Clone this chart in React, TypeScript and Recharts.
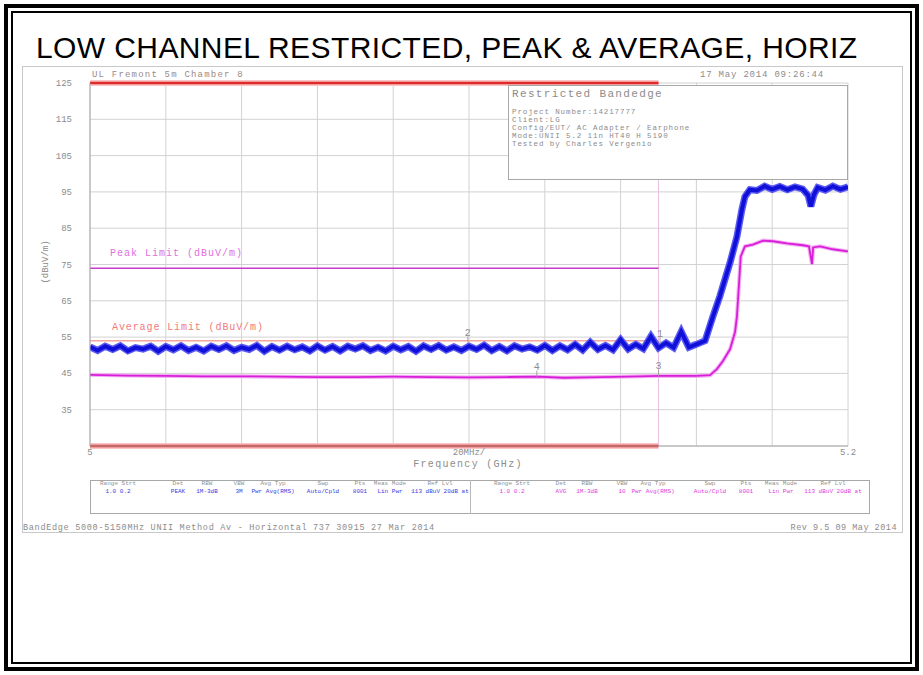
import React from 'react';
import { ComposedChart, Line, XAxis, YAxis, CartesianGrid, ReferenceLine, Scatter } from 'recharts';

// ---------- data ----------
const xTicks = [5.0, 5.02, 5.04, 5.06, 5.08, 5.1, 5.12, 5.14, 5.16, 5.18, 5.2];
const xTickLabels = ['5', '', '', '', '', '20MHz/', '', '', '', '', '5.2'];
const yTicks = [25, 35, 45, 55, 65, 75, 85, 95, 105, 115, 125];
const yTickLabels = ['', '35', '45', '55', '65', '75', '85', '95', '105', '115', '125'];

const restrictedBand = [5.0, 5.15];
const bandMarkLevels = [125, 25];
const peakLimit = 74;
const avgLimit = 54;

const peakTrace: [number, number][] = [
  [5.000, 52.3], [5.002, 51.3], [5.004, 52.5], [5.006, 51.6], [5.008, 52.6], [5.010, 51.2], [5.012, 52.1], [5.014, 51.7], [5.016, 52.5], [5.018, 51.1],
  [5.020, 52.4], [5.022, 51.5], [5.024, 52.6], [5.026, 51.3], [5.028, 52.2], [5.030, 51.2], [5.032, 52.5], [5.034, 51.6], [5.036, 52.6], [5.038, 51.3],
  [5.040, 52.2], [5.042, 51.6], [5.044, 52.7], [5.046, 51.1], [5.048, 52.4], [5.050, 51.4], [5.052, 52.5], [5.054, 51.5], [5.056, 52.3], [5.058, 51.2],
  [5.060, 52.6], [5.062, 51.4], [5.064, 52.4], [5.066, 51.2], [5.068, 52.5], [5.070, 51.7], [5.072, 52.6], [5.074, 51.3], [5.076, 52.2], [5.078, 51.2],
  [5.080, 52.5], [5.082, 51.5], [5.084, 52.4], [5.086, 51.1], [5.088, 52.6], [5.090, 51.6], [5.092, 52.7], [5.094, 51.4], [5.096, 52.3], [5.098, 51.3],
  [5.100, 52.5], [5.102, 51.6], [5.104, 52.8], [5.106, 51.3], [5.108, 52.4], [5.110, 51.2], [5.112, 52.6], [5.114, 51.7], [5.116, 52.3], [5.118, 51.4],
  [5.120, 52.7], [5.122, 51.3], [5.124, 52.6], [5.126, 51.5], [5.128, 53.0], [5.130, 51.4], [5.132, 53.6], [5.134, 51.6], [5.136, 52.7], [5.138, 51.5],
  [5.140, 54.3], [5.142, 51.7], [5.144, 53.0], [5.146, 51.8], [5.148, 55.2], [5.150, 52.0], [5.152, 53.4], [5.154, 52.1], [5.156, 56.5], [5.158, 52.2],
  [5.160, 53.0], [5.1623, 54.0], [5.1644, 60.8], [5.1662, 66.3], [5.1689, 75.6], [5.1707, 82.7], [5.1720, 90.1], [5.1728, 93.7], [5.1741, 95.6],
  [5.176, 95.4], [5.178, 96.6], [5.180, 95.7], [5.182, 96.5], [5.184, 95.6], [5.186, 96.4], [5.188, 95.8], [5.1895, 94.0], [5.1902, 91.0],
  [5.1910, 94.2], [5.192, 96.2], [5.194, 95.5], [5.196, 96.6], [5.198, 95.7], [5.200, 96.4],
];

const avgTrace: [number, number][] = [
  [5.000, 44.6], [5.010, 44.4], [5.020, 44.3], [5.030, 44.2], [5.040, 44.2], [5.050, 44.1], [5.060, 44.0], [5.070, 44.0],
  [5.080, 44.1], [5.090, 44.0], [5.100, 43.9], [5.110, 44.0], [5.118, 44.1], [5.125, 43.8], [5.135, 44.0], [5.145, 44.2],
  [5.150, 44.3], [5.160, 44.3], [5.1636, 44.5], [5.1654, 46.2], [5.1670, 48.4], [5.1689, 51.7], [5.1702, 56.4], [5.1707, 60.8],
  [5.1712, 69.0], [5.1717, 77.2], [5.1728, 80.0], [5.1749, 80.5], [5.1776, 81.6], [5.1802, 81.4], [5.1839, 80.8], [5.1881, 80.3],
  [5.1897, 80.0], [5.1905, 75.1], [5.1908, 79.7], [5.1926, 80.0], [5.1960, 79.2], [5.2000, 78.6],
];

const markers = [
  { label: '1', f: 5.1504, v: 53.2 },
  { label: '2', f: 5.0997, v: 53.5 },
  { label: '3', f: 5.1500, v: 44.3 },
  { label: '4', f: 5.1179, v: 44.1 },
];

const infoLines = [
  'Project Number:14217777',
  'Client:LG',
  'Config/EUT/ AC Adapter / Earphone',
  'Mode:UNII 5.2 11n HT40 H 5190',
  'Tested by Charles Vergenio',
];

const tableHeaders = ['Range Strt', 'Det', 'RBW', 'VBW', 'Avg Typ', 'Swp', 'Pts', 'Meas Mode', 'Ref Lvl'];
const peakTableValues = ['1.0 0.2', 'PEAK', '1M-3dB', '3M', 'Pwr Avg(RMS)', 'Auto/Cpld', '8001', 'Lin Pwr', '113 dBuV 20dB at'];
const avgTableValues = ['1.0 0.2', 'AVG', '1M-3dB', '10', 'Pwr Avg(RMS)', 'Auto/Cpld', '8001', 'Lin Pwr', '113 dBuV 20dB at'];
const leftCols = [118, 178, 207, 239, 273, 323, 360, 390, 440];
const rightCols = [512, 561, 587, 622, 653, 710, 746, 781, 833];

// ---------- helpers ----------
const MONO = '"Liberation Mono", "DejaVu Sans Mono", monospace';

type TP = { x: number; y: number; s: string; c?: string; size?: number; ls?: number; anchor?: 'start' | 'middle' | 'end'; family?: string };
const T = ({ x, y, s, c = '#8c8c8c', size = 9, ls = 0, anchor = 'start', family = MONO }: TP) => (
  <div
    style={{
      position: 'absolute',
      left: x,
      top: y - size / 2,
      fontSize: size,
      lineHeight: `${size}px`,
      color: c,
      letterSpacing: ls,
      whiteSpace: 'nowrap',
      fontFamily: family,
      transform: anchor === 'middle' ? 'translateX(-50%)' : anchor === 'end' ? 'translateX(-100%)' : undefined,
    }}
  >
    {s}
  </div>
);

const YTick = (props: any) => {
  const { x, y, payload } = props;
  const i = yTicks.indexOf(payload.value);
  const lab = i >= 0 ? yTickLabels[i] : '';
  if (!lab) return <g />;
  return (
    <text x={x} y={y + 3} textAnchor="end" fontSize={9} fontFamily={MONO} fill="#8c8c8c">
      {lab}
    </text>
  );
};

const XTick = (props: any) => {
  const { x, y, payload } = props;
  const i = xTicks.indexOf(payload.value);
  const lab = i >= 0 ? xTickLabels[i] : '';
  if (!lab) return <g />;
  return (
    <text x={x} y={y + 9} textAnchor="middle" fontSize={9} fontFamily={MONO} fill="#8c8c8c">
      {lab}
    </text>
  );
};

const MarkerShape = (props: any) => {
  const { cx, cy, payload } = props;
  return (
    <g>
      <line x1={cx} y1={cy - 6} x2={cx} y2={cy} stroke="#a0a0a0" strokeWidth={1} />
      <text x={cx} y={cy - 7} textAnchor="middle" fontSize={10} fontFamily={MONO} fill="#8c8c8c">
        {payload.label}
      </text>
    </g>
  );
};

export default function App() {
  const peakData = peakTrace.map(([f, v]) => ({ f, v }));
  const avgData = avgTrace.map(([f, v]) => ({ f, v }));

  return (
    <div style={{ position: 'absolute', left: 0, top: 0, width: 923, height: 675, background: '#fff', overflow: 'hidden' }}>
      {/* page frame */}
      <div style={{ position: 'absolute', left: 4, top: 4, width: 915, height: 667, border: '4px solid #000', boxSizing: 'border-box' }} />
      <div style={{ position: 'absolute', left: 11, top: 11, width: 901, height: 653, border: '2px solid #000', boxSizing: 'border-box' }} />

      {/* title */}
      <div
        style={{
          position: 'absolute',
          left: 36,
          top: 33,
          fontSize: 30,
          lineHeight: '30px',
          letterSpacing: 0.4,
          fontFamily: '"Liberation Sans", Arial, sans-serif',
          color: '#000',
          whiteSpace: 'nowrap',
        }}
      >
        LOW CHANNEL RESTRICTED, PEAK &amp; AVERAGE, HORIZ
      </div>

      {/* screenshot frame */}
      <div style={{ position: 'absolute', left: 22, top: 66, width: 881, height: 467, border: '1px solid #c8c8c8', boxSizing: 'border-box' }} />

      <div style={{ position: 'absolute', left: 0, top: 0 }}>
        <ComposedChart width={923} height={675} margin={{ top: 83, right: 75, bottom: 209, left: 60 }}>
          <CartesianGrid stroke="#d2d2d2" strokeWidth={1} />
          <XAxis
            dataKey="f"
            type="number"
            domain={[xTicks[0], xTicks[xTicks.length - 1]]}
            ticks={xTicks}
            height={20}
            tickLine={false}
            tickSize={0}
            tickMargin={0}
            axisLine={{ stroke: '#a8a8a8' }}
            tick={XTick}
            allowDataOverflow
            interval={0}
          />
          <YAxis
            type="number"
            domain={[yTicks[0], yTicks[yTicks.length - 1]]}
            ticks={yTicks}
            width={30}
            tickLine={false}
            tickSize={0}
            tickMargin={18}
            axisLine={{ stroke: '#a8a8a8' }}
            tick={YTick}
            allowDataOverflow
            interval={0}
          />

          <ReferenceLine x={restrictedBand[1]} stroke="#e6c0e6" strokeWidth={1} ifOverflow="visible" />

          {bandMarkLevels.map((lv) => (
            <ReferenceLine
              key={'h' + lv}
              segment={[{ x: restrictedBand[0], y: lv }, { x: restrictedBand[1], y: lv }]}
              stroke="#f8c4c4"
              strokeWidth={6}
              ifOverflow="visible"
            />
          ))}
          {bandMarkLevels.map((lv) => (
            <ReferenceLine
              key={'r' + lv}
              segment={[{ x: restrictedBand[0], y: lv }, { x: restrictedBand[1], y: lv }]}
              stroke="#e02a2a"
              strokeWidth={2.5}
              ifOverflow="visible"
            />
          ))}

          <ReferenceLine
            segment={[{ x: restrictedBand[0], y: peakLimit }, { x: restrictedBand[1], y: peakLimit }]}
            stroke="#c83cc8"
            strokeWidth={1.5}
            ifOverflow="visible"
          />
          <ReferenceLine
            segment={[{ x: restrictedBand[0], y: avgLimit }, { x: restrictedBand[1], y: avgLimit }]}
            stroke="#f4a49a"
            strokeWidth={1.5}
            ifOverflow="visible"
          />

          <Line data={avgData} dataKey="v" type="linear" stroke="#f3b0f3" strokeWidth={4} dot={false} isAnimationActive={false} />
          <Line data={avgData} dataKey="v" type="linear" stroke="#d81ed8" strokeWidth={1.8} dot={false} isAnimationActive={false} />
          <Line data={peakData} dataKey="v" type="linear" stroke="#5a5af2" strokeWidth={7} dot={false} isAnimationActive={false} />
          <Line data={peakData} dataKey="v" type="linear" stroke="#1010d8" strokeWidth={4} dot={false} isAnimationActive={false} />

          <Scatter data={markers} dataKey="v" shape={<MarkerShape />} isAnimationActive={false} />
        </ComposedChart>
      </div>

      {/* analyzer header texts */}
      <T x={92} y={75} s="UL Fremont 5m Chamber 8" ls={1.2} c="#9a8a8a" />
      <T x={700} y={75} s="17 May 2014   09:26:44" ls={0.8} />

      {/* y label */}
      <div
        style={{
          position: 'absolute',
          left: 46,
          top: 262,
          transform: 'translate(-50%, -50%) rotate(-90deg)',
          fontSize: 9,
          lineHeight: '9px',
          fontFamily: MONO,
          color: '#8c8c8c',
          whiteSpace: 'nowrap',
        }}
      >
        (dBuV/m)
      </div>

      {/* limit labels */}
      <T x={110} y={254} s="Peak Limit (dBuV/m)" c="#e070e0" size={10} ls={1} />
      <T x={112} y={328} s="Average Limit (dBuV/m)" c="#f07a7a" size={10} ls={0.9} />

      {/* x label */}
      <T x={468} y={465} s="Frequency (GHz)" anchor="middle" size={10} ls={1.3} />

      {/* info box */}
      <div style={{ position: 'absolute', left: 508, top: 85, width: 340, height: 95, border: '1px solid #a8a8a8', background: '#fff', boxSizing: 'border-box' }} />
      <T x={512} y={94} s="Restricted Bandedge" size={11} ls={1.35} />
      {infoLines.map((s, i) => (
        <T key={s} x={512} y={113 + i * 8} s={s} size={7.5} ls={0.9} />
      ))}

      {/* settings table */}
      <div style={{ position: 'absolute', left: 90, top: 480, width: 780, height: 34, border: '1px solid #a8a8a8', boxSizing: 'border-box' }} />
      <div style={{ position: 'absolute', left: 470, top: 480, width: 1, height: 34, background: '#b8b8b8' }} />
      {tableHeaders.map((h, i) => (
        <T key={'lh' + i} x={leftCols[i]} y={484} s={h} size={6} anchor="middle" c="#909090" />
      ))}
      {peakTableValues.map((v, i) => (
        <T key={'lv' + i} x={leftCols[i]} y={492} s={v} size={6} anchor="middle" c="#3a3ae0" />
      ))}
      {tableHeaders.map((h, i) => (
        <T key={'rh' + i} x={rightCols[i]} y={484} s={h} size={6} anchor="middle" c="#909090" />
      ))}
      {avgTableValues.map((v, i) => (
        <T key={'rv' + i} x={rightCols[i]} y={492} s={v} size={6} anchor="middle" c="#e040e0" />
      ))}

      {/* footer */}
      <T x={23} y={528} s="BandEdge 5000-5150MHz UNII Method Av - Horizontal 737 30915 27 Mar 2014" size={8.5} ls={0.7} />
      <T x={897} y={528} s="Rev 9.5 09 May 2014" size={8.5} ls={0.5} anchor="end" />
    </div>
  );
}
